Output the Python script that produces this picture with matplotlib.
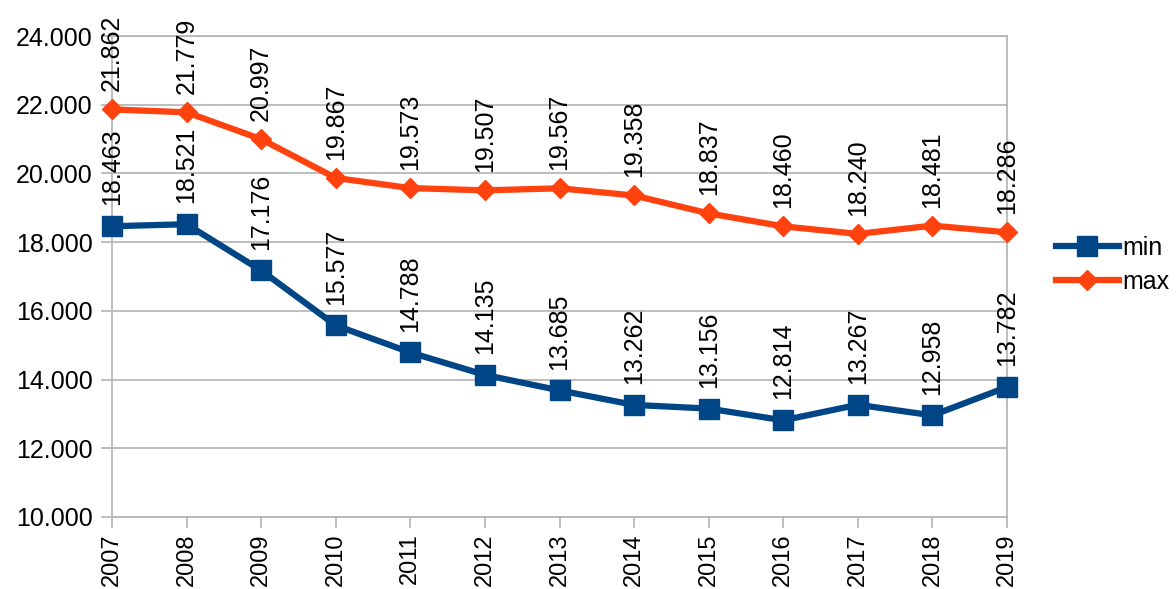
import numpy as np
import matplotlib.pyplot as plt

years = ['2007', '2008', '2009', '2010', '2011', '2012', '2013',
         '2014', '2015', '2016', '2017', '2018', '2019']
min_vals = [18.463, 18.521, 17.176, 15.577, 14.788, 14.135, 13.685,
            13.262, 13.156, 12.814, 13.267, 12.958, 13.782]
max_vals = [21.862, 21.779, 20.997, 19.867, 19.573, 19.507, 19.567,
            19.358, 18.837, 18.460, 18.240, 18.481, 18.286]

plt.rcParams['font.family'] = ['Liberation Sans', 'DejaVu Sans']
fs = 18

fig = plt.figure(figsize=(11.76, 5.89), dpi=100)
ax = fig.add_axes([112 / 1176, 1 - 517 / 589, (1007 - 112) / 1176, (517 - 36) / 589])

x = np.arange(len(years))
ax.plot(x, min_vals, color='#004586', lw=4.5, marker='s', markersize=15,
        label='min', zorder=3, clip_on=False)
ax.plot(x, max_vals, color='#ff420e', lw=4.5, marker='D', markersize=10,
        label='max', zorder=3, clip_on=False)

for xi, v in zip(x, min_vals):
    ax.annotate(f'{v:.3f}', (xi, v), xytext=(0, 15), textcoords='offset points',
                ha='center', va='bottom', rotation=90, fontsize=fs, clip_on=False)
for xi, v in zip(x, max_vals):
    ax.annotate(f'{v:.3f}', (xi, v), xytext=(0, 13), textcoords='offset points',
                ha='center', va='bottom', rotation=90, fontsize=fs, clip_on=False)

ax.set_xlim(0, len(years) - 1)
ax.set_ylim(10, 24)
ax.set_yticks(np.arange(10, 25, 2))
ax.set_yticklabels([f'{t:.3f}' for t in np.arange(10, 25, 2)])
ax.set_xticks(x)
ax.set_xticklabels(years, rotation=90)

ax.grid(axis='y', color='#b3b3b3', lw=1.2)
ax.set_axisbelow(True)
for s in ax.spines.values():
    s.set_color('#b3b3b3')
    s.set_linewidth(1.2)
ax.tick_params(axis='both', colors='#b3b3b3', labelcolor='black',
               labelsize=fs, length=8, width=1.2, pad=6)
ax.tick_params(axis='x', labelsize=17, pad=4)

ax.legend(loc='center left', bbox_to_anchor=(1056 / 1176, 1 - 265 / 589),
          bbox_transform=fig.transFigure, frameon=False, fontsize=fs,
          handlelength=2.5, handletextpad=0.15, labelspacing=0.4,
          borderpad=0, borderaxespad=0)

fig.savefig('out.png', dpi=100)
